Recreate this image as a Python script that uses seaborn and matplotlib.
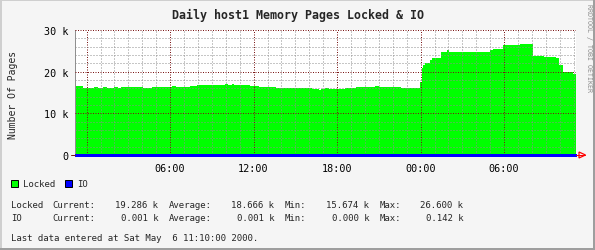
import matplotlib
matplotlib.use("Agg")
import numpy as np
import pandas as pd
import seaborn as sns
import matplotlib.pyplot as plt
from matplotlib.ticker import MultipleLocator, FixedLocator, FixedFormatter
from matplotlib.patches import Rectangle, Polygon
from matplotlib.lines import Line2D

W, H = 595, 251

# ---------------- data ----------------
title = "Daily host1 Memory Pages Locked & IO"
y_label = "Number Of Pages"
# hours relative to 00:00 of the first day; value in pages
locked_hours = [-0.833, -0.33, 0.53, 0.75, 1.18, 1.39, 1.97, 2.18, 2.47, 3.98,
                4.70, 6.14, 6.35, 7.43, 7.93, 9.94, 10.09, 10.45, 10.52, 11.67,
                12.31, 13.18, 13.54, 14.04, 16.13, 16.63, 16.85, 17.13, 17.35, 18.07,
                18.57, 19.36, 20.72, 20.94, 22.38, 22.52, 23.96, 24.08, 24.19, 24.32,
                24.68, 24.80, 25.47, 25.87, 25.99, 28.99, 29.20, 29.71, 29.94, 31.14,
                31.98, 32.82, 33.66, 33.89, 34.14, 34.25, 34.86, 35.167]
locked_pages = [16560, 16080, 16300, 16080, 16300, 16100, 16300, 16100, 16300, 16200,
                16300, 16500, 16400, 16560, 16880, 17000, 16880, 17000, 16880, 16640,
                16320, 16400, 16080, 16000, 15770, 15680, 15770, 16080, 15900, 15840,
                16080, 16240, 16500, 16240, 16400, 16080, 17600, 20800, 21600, 22000,
                22800, 23360, 24640, 25200, 24640, 25200, 25360, 25440, 26400, 26600,
                23840, 23600, 23200, 21600, 18000, 20000, 19360, 19286]
io_hours = [-0.833, 35.167]
io_pages = [1, 1]

x_range = (-0.833, 35.167)
x_major_hours = [0, 6, 12, 18, 24, 30]
x_major_labels = ["", "06:00", "12:00", "18:00", "00:00", "06:00"]
y_major_values = [0, 10000, 20000, 30000]
y_major_labels = ["0", "10 k", "20 k", "30 k"]

legend_names = ["Locked", "IO"]
legend_colors = ["#00FF00", "#0000FF"]
stat_names = ["Current:", "Average:", "Min:", "Max:"]
locked_stats = ["19.286 k", "18.666 k", "15.674 k", "26.600 k"]
io_stats = ["0.001 k", "0.001 k", "0.000 k", "0.142 k"]
footer = "Last data entered at Sat May  6 11:10:00 2000."
watermark = "RRDTOOL / TOBI OETIKER"

# ---------------- style ----------------
sns.set_style("white")
plt.rcParams["font.family"] = ["DejaVu Sans Mono"]
MONO = "DejaVu Sans Mono"
BACK = "#F5F5F5"
GRID = "#8F8F8F"
MGRID = "#7A1515"

fig = plt.figure(figsize=(W / 100, H / 100), dpi=100)
fig.patch.set_facecolor(BACK)


def fx(x):
    return x / W


def fy(y):
    return 1 - y / H


ax = fig.add_axes([fx(75), fy(156), 501 / W, 125 / H])
ax.set_facecolor("white")

df_locked = pd.DataFrame({"hour": locked_hours, "pages": locked_pages})
df_io = pd.DataFrame({"hour": io_hours, "pages": io_pages})

ax.fill_between(df_locked["hour"], df_locked["pages"], step="post",
                color=legend_colors[0], lw=0, zorder=1, antialiased=False)
sns.lineplot(data=df_locked, x="hour", y="pages", drawstyle="steps-post",
             color=legend_colors[0], lw=0.72, estimator=None, ax=ax,
             antialiased=False)
sns.lineplot(data=df_io, x="hour", y="pages", drawstyle="steps-post",
             color=legend_colors[1], lw=1.0, estimator=None, ax=ax,
             antialiased=False)
io_line = ax.lines[-1]
io_line.set_zorder(6)
io_line.set_clip_on(False)

ax.set_xlim(*x_range)
ax.set_ylim(0, 30000)
ax.set_xlabel("")
ax.set_ylabel("")

ax.xaxis.set_major_locator(FixedLocator(x_major_hours))
ax.xaxis.set_major_formatter(FixedFormatter(x_major_labels))
ax.xaxis.set_minor_locator(MultipleLocator(1))
ax.yaxis.set_major_locator(FixedLocator(y_major_values))
ax.yaxis.set_major_formatter(FixedFormatter(y_major_labels))
ax.yaxis.set_minor_locator(MultipleLocator(2000))

ax.set_axisbelow(False)
ax.grid(which="major", color=MGRID, linestyle=(0, (1, 1.5)), lw=0.72)
ax.grid(which="minor", color=GRID, linestyle=(0, (1, 2)), lw=0.72)

ax.tick_params(axis="y", which="major", length=2.5, width=0.72, color=MGRID,
               direction="out", pad=2.5, labelsize=7.3, labelcolor="black")
ax.tick_params(axis="y", which="minor", length=2.5, width=0.72, color=GRID,
               direction="out")
ax.tick_params(axis="x", which="major", length=2.5, width=0.72, color=MGRID,
               direction="out", pad=3.5, labelsize=7.3, labelcolor="black")
ax.tick_params(axis="x", which="minor", length=1.5, width=0.72, color=GRID,
               direction="out")
for lab in ax.get_xticklabels() + ax.get_yticklabels():
    lab.set_fontfamily(MONO)

for s in ["top", "right"]:
    ax.spines[s].set_visible(False)
ax.spines["left"].set_color(GRID)
ax.spines["left"].set_linewidth(0.72)
ax.spines["bottom"].set_color(MGRID)
ax.spines["bottom"].set_linewidth(0.72)
ax.spines["bottom"].set_zorder(2)

# axis extension and arrow (decoration)
fig.add_artist(Line2D([fx(71), fx(75)], [fy(156), fy(156)], color=MGRID, lw=0.72))
fig.add_artist(Line2D([fx(576), fx(585)], [fy(156), fy(156)], color="#FF0000", lw=0.72))
fig.add_artist(Polygon([(fx(579), fy(153)), (fx(579), fy(159)), (fx(585.5), fy(156))],
                       closed=True, fill=False, edgecolor="#FF0000", lw=0.9))

# texts
fig.text(fx(297.5), fy(19.5), title, ha="center", va="baseline",
         fontsize=8.4, fontweight="bold", family=MONO)
fig.text(fx(12.5), fy(94.5), y_label, ha="center", va="center", rotation=90,
         fontsize=7.0, family=MONO)
fig.text(fx(588.5), fy(48.5), watermark, ha="center", va="center", rotation=270,
         fontsize=4.8, family=MONO, color="#8C8C8C")

# legend
FS = 6.5
sq_x = [11, 64.5]
txt_x = [23, 77.5]
for name, col, sx, tx in zip(legend_names, legend_colors, sq_x, txt_x):
    fig.add_artist(Rectangle((fx(sx), fy(187.5)), 7 / W, 7 / H,
                             facecolor=col, edgecolor="black", lw=0.72,
                             transform=fig.transFigure))
    fig.text(fx(tx), fy(187.5), name, ha="left", va="baseline",
             fontsize=FS, family=MONO)

label_x = [52.3, 169, 285, 380]
value_right = [158.3, 274.3, 369.3, 463.3]
for row_name, stats, base in zip(legend_names, [locked_stats, io_stats], [208.5, 221.5]):
    fig.text(fx(10.7), fy(base), row_name, ha="left", va="baseline",
             fontsize=FS, family=MONO)
    for sn, sv, lx, vr in zip(stat_names, stats, label_x, value_right):
        fig.text(fx(lx), fy(base), sn, ha="left", va="baseline",
                 fontsize=FS, family=MONO)
        fig.text(fx(vr), fy(base), sv, ha="right", va="baseline",
                 fontsize=FS, family=MONO)

fig.text(fx(10.7), fy(241.5), footer, ha="left", va="baseline",
         fontsize=FS, family=MONO)

# 3D frame
fig.add_artist(Line2D([0, 1], [fy(1), fy(1)], color="#CFCFCF", lw=1.44))
fig.add_artist(Line2D([fx(1), fx(1)], [0, 1], color="#CFCFCF", lw=1.44))
fig.add_artist(Line2D([0, 1], [fy(250), fy(250)], color="#9E9E9E", lw=1.44))
fig.add_artist(Line2D([fx(594), fx(594)], [0, 1], color="#9E9E9E", lw=1.44))

fig.savefig("out.png", dpi=100, facecolor=BACK)
